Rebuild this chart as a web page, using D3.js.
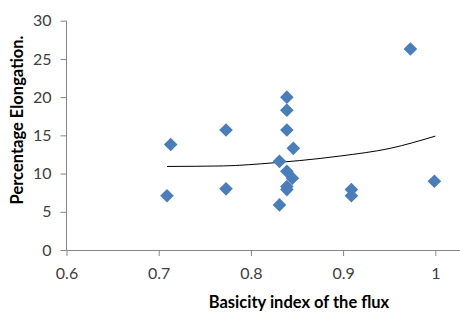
<!DOCTYPE html>
<html>
<head>
<meta charset="utf-8">
<script src="https://cdn.jsdelivr.net/npm/d3@7"></script>
<style>
  body { margin: 0; background: #fff; }
  text { font-family: Lato, "Open Sans", sans-serif; }
</style>
</head>
<body>
<script>
// basicity index vs elongation
let basicity = [0.709, 0.713, 0.773, 0.773, 0.839, 0.839, 0.839, 0.846, 0.831, 0.839, 0.845, 0.839, 0.839, 0.831, 0.909, 0.909, 0.973, 0.999]
let elongation = [7.1, 13.8, 15.7, 8.0, 20.0, 18.3, 15.7, 13.3, 11.6, 10.3, 9.4, 8.3, 7.9, 5.9, 7.9, 7.1, 26.3, 9.0]

// trend line, read at a few places
let trendX = [0.709, 0.770, 0.824, 0.853, 0.897, 0.951, 1.0]
let trendY = [10.93, 11.0, 11.4, 11.7, 12.3, 13.3, 14.9]

let xTicks = [0.6, 0.7, 0.8, 0.9, 1]
let yTicks = [0, 5, 10, 15, 20, 25, 30]

let width = 460
let height = 312

let svg = d3.select("body")
            .append("svg")
            .attr("width", width)
            .attr("height", height)

let xScale = d3.scaleLinear()
               .domain([0.6, 1.1])
               .range([66.5, 527.5])

let yScale = d3.scaleLinear()
               .domain([0, 30])
               .range([250, 20.7])

let xAxis = d3.axisBottom(xScale)
              .tickValues(xTicks)
              .tickFormat(d => d === 1 ? "1" : d3.format(".1f")(d))
              .tickSize(6)
              .tickPadding(12)

let yAxis = d3.axisLeft(yScale)
              .tickValues(yTicks)
              .tickSize(6)
              .tickPadding(9)

let gx = svg.append("g")
    .attr("transform", "translate(0,250)")
    .call(xAxis)

let gy = svg.append("g")
    .attr("transform", "translate(66.5,0)")
    .call(yAxis)

gx.select(".domain").attr("d", "M66.5,0.5H460")
gy.select(".domain").attr("d", "M0,20.7V250")

svg.selectAll(".domain, .tick line")
   .attr("stroke", "#868686")
   .attr("stroke-width", 1)

svg.selectAll(".tick text")
   .attr("font-size", 16)
   .attr("fill", "#404040")
   .style("font-family", "Lato, sans-serif")

// trend line
let line = d3.line()
             .x(d => xScale(d[0]))
             .y(d => yScale(d[1]))
             .curve(d3.curveMonotoneX)

svg.append("path")
   .datum(trendX.map((x, i) => [x, trendY[i]]))
   .attr("d", line)
   .attr("fill", "none")
   .attr("stroke", "#000")
   .attr("stroke-width", 1)

// diamonds
let r = 6.8
svg.selectAll("path.pt")
   .data(basicity.map((x, i) => [x, elongation[i]]))
   .enter()
   .append("path")
   .attr("class", "pt")
   .attr("d", `M0,${-r}L${r},0L0,${r}L${-r},0Z`)
   .attr("transform", d => `translate(${xScale(d[0])},${yScale(d[1])})`)
   .attr("fill", "#4A7EBB")

// axis titles
svg.append("text")
   .attr("x", 299)
   .attr("y", 308)
   .attr("text-anchor", "middle")
   .attr("font-size", 16.5)
   .attr("font-weight", "bold")
   .attr("fill", "#000")
   .text("Basicity index of the flux")

svg.append("text")
   .attr("transform", "translate(23,120) rotate(-90)")
   .attr("text-anchor", "middle")
   .attr("font-size", 16.5)
   .attr("font-weight", "bold")
   .attr("fill", "#000")
   .text("Percentage Elongation.")
</script>
</body>
</html>
